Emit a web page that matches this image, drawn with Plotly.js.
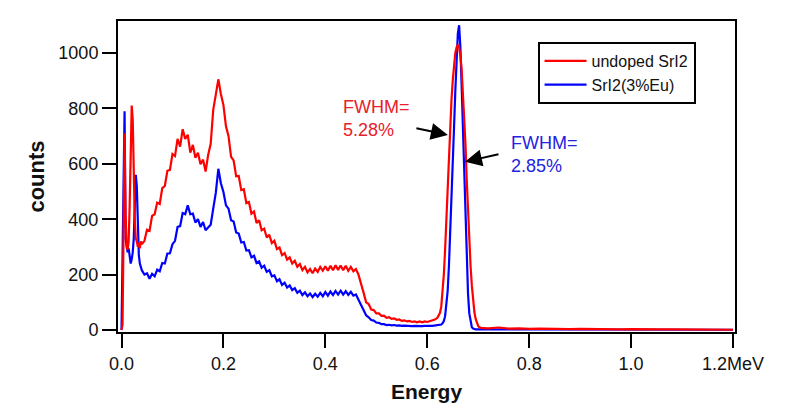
<!DOCTYPE html>
<html>
<head>
<meta charset="utf-8">
<script src="https://cdn.plot.ly/plotly-3.0.1.min.js"></script>
<style>html,body{margin:0;padding:0;background:#fff;}#chart{width:789px;height:409px;}</style>
</head>
<body>
<div id="chart"></div>
<script>
// Energy channels (MeV)
const energy = [
  0.000,0.002,0.004,0.006,0.008,0.010,0.012,0.014,0.016,0.018,0.020,0.022,0.024,0.026,0.028,0.030,0.032,0.034,0.036,0.038,0.040,
  0.045,0.050,0.055,0.060,0.065,0.070,0.075,0.080,0.085,0.090,
  0.095,0.100,0.105,0.110,0.115,0.120,0.125,0.130,0.135,0.140,
  0.145,0.150,0.155,0.160,0.165,0.170,0.175,0.180,0.185,0.190,
  0.195,0.200,0.205,0.210,0.215,0.220,0.225,0.230,0.235,0.240,
  0.245,0.250,0.255,0.260,0.265,0.270,0.275,0.280,0.285,0.290,
  0.295,0.300,0.305,0.310,0.315,0.320,0.325,0.330,0.335,0.340,
  0.345,0.350,0.355,0.360,0.365,0.370,0.375,0.380,0.385,0.390,
  0.395,0.400,0.405,0.410,0.415,0.420,0.425,0.430,0.435,0.440,
  0.445,0.450,0.455,0.460,0.465,0.470,0.475,0.480,0.485,0.490,
  0.495,0.500,0.505,0.510,0.515,0.520,0.525,0.530,0.535,0.540,
  0.545,0.550,0.555,0.560,0.565,0.570,0.575,0.580,0.585,0.590,
  0.595,0.600,0.605,0.610,0.615,0.620,
  0.6225,0.625,0.6275,0.630,0.6325,0.635,0.6375,0.640,0.6425,0.645,0.6475,0.650,
  0.6525,0.655,0.6575,0.660,0.6625,0.665,0.6675,0.670,0.6725,0.675,0.6775,0.680,
  0.6825,0.685,0.6875,0.690,0.6925,0.695,0.6975,0.700,0.7025,0.705,0.7075,0.710,
  0.72,0.74,0.76,0.78,0.80,0.82,0.84,0.86,0.88,0.90,0.92,0.94,0.96,0.98,1.00,
  1.02,1.04,1.06,1.08,1.10,1.12,1.14,1.16,1.18,1.20
];

// undoped SrI2 counts
const undoped = [
  0,20,350,710,420,300,290,320,450,700,810,760,560,400,330,320,300,315,295,320,310,
  322,362,358,412,418,460,455,512,520,575,
  578,635,628,690,662,725,690,705,640,668,
  622,640,598,615,572,632,672,795,850,905,
  852,812,735,700,625,612,555,556,505,508,
  458,462,420,428,386,396,360,366,334,344,
  314,322,292,298,270,278,254,262,240,250,
  228,238,216,228,208,220,205,222,210,228,
  214,230,214,232,216,234,217,233,216,232,
  214,228,212,220,200,170,135,100,94,74,
  72,60,60,51,52,44,46,40,42,37,
  38,33,35,31,33,29,31,28,31,28,
  31,29,32,33,38,44,
  52,62,85,130,200,290,400,530,650,750,830,900,
  960,1000,1020,1030,1020,990,940,860,770,670,540,420,
  320,230,160,105,65,40,22,14,10,8,7,7,
  6,9,5,6,4,5,4,4,3,4,3,3,3,2,3,
  2,2,2,2,2,1,2,1,1,1
];

// SrI2(3%Eu) counts
const eu3 = [
  0,300,650,790,330,300,280,295,260,240,255,280,330,450,560,520,340,270,240,225,215,
  200,205,185,203,194,218,212,242,240,276,
  277,310,322,372,375,422,418,450,418,420,
  388,400,372,390,360,372,380,438,495,582,
  530,498,450,438,396,392,352,348,316,318,
  287,288,262,268,242,248,225,232,210,216,
  194,197,176,183,163,171,153,161,144,151,
  134,142,126,136,122,132,119,131,120,134,
  122,137,124,139,126,141,128,142,128,140,
  127,138,124,128,110,90,72,53,46,36,
  34,27,26,21,21,18,19,17,18,16,
  17,15,16,15,16,14,15,14,15,14,
  15,14,15,15,16,16,
  17,18,20,24,32,50,85,140,230,340,470,600,
  730,860,980,1070,1100,1020,880,720,560,400,250,130,
  60,25,10,5,3,2,2,2,2,2,2,2,
  2,1,1,1,1,1,1,1,1,1,1,1,1,1,1,
  1,1,1,1,1,1,1,1,1,1
];

const xTickVals = [0, 0.2, 0.4, 0.6, 0.8, 1.0, 1.2];
const xTickText = ['0.0', '0.2', '0.4', '0.6', '0.8', '1.0', '1.2MeV'];
const yTickVals = [0, 200, 400, 600, 800, 1000];
const seriesNames = ['undoped SrI2', 'SrI2(3%Eu)'];

const FONT = 'Liberation Sans, Arial, Helvetica, sans-serif';

const traces = [
  {x: energy, y: eu3, type: 'scatter', mode: 'lines', name: seriesNames[1],
   line: {color: '#0000ff', width: 2.2}},
  {x: energy, y: undoped, type: 'scatter', mode: 'lines', name: seriesNames[0],
   line: {color: '#ff0000', width: 2.2}}
];

const layout = {
  width: 789, height: 409,
  margin: {l: 118, r: 54, t: 21, b: 77},
  paper_bgcolor: '#fff', plot_bgcolor: '#fff',
  font: {family: FONT, color: '#111', size: 18},
  showlegend: true,
  legend: {x: 0.68, y: 0.9325, xanchor: 'left', yanchor: 'top', itemwidth: 42,
           bgcolor: '#fff', bordercolor: '#000', borderwidth: 2,
           font: {size: 16, family: FONT, color: '#111'}, traceorder: 'reversed'},
  xaxis: {
    range: [-0.0069, 1.2039], tickmode: 'array', tickvals: xTickVals, ticktext: xTickText,
    ticks: 'outside', ticklen: 14, tickwidth: 2, tickcolor: '#000',
    showline: true, linewidth: 2, linecolor: '#000', mirror: true,
    showgrid: false, zeroline: false, tickfont: {size: 18, family: FONT, color: '#111'},
    title: {text: '<b>Energy</b>', font: {size: 21, family: FONT, color: '#111'}, standoff: 12}
  },
  yaxis: {
    range: [-7.2, 1115.5], tickmode: 'array', tickvals: yTickVals,
    ticks: 'outside', ticklen: 14, tickwidth: 2, tickcolor: '#000',
    showline: true, linewidth: 2, linecolor: '#000', mirror: true,
    showgrid: false, zeroline: false, tickfont: {size: 18, family: FONT, color: '#111'},
    title: {text: '<b>counts</b>', font: {size: 22, family: FONT, color: '#111'}, standoff: 8}
  },
  annotations: [
    {x: 0.430, y: 847, xref: 'x', yref: 'y', xanchor: 'left', yanchor: 'top', align: 'left',
     text: 'FWHM=<br>5.28%', showarrow: false, font: {size: 18, family: FONT, color: '#e8202a'}},
    {x: 0.760, y: 720, xref: 'x', yref: 'y', xanchor: 'left', yanchor: 'top', align: 'left',
     text: 'FWHM=<br>2.85%', showarrow: false, font: {size: 18, family: FONT, color: '#2222e0'}},
    {x: 0.6405, y: 704, xref: 'x', yref: 'y', text: '', showarrow: true,
     ax: -33, ay: -7, arrowhead: 2, arrowsize: 1.7, arrowwidth: 2, arrowcolor: '#000', standoff: 0},
    {x: 0.674, y: 607, xref: 'x', yref: 'y', text: '', showarrow: true,
     ax: 35, ay: -8, arrowhead: 2, arrowsize: 1.7, arrowwidth: 2, arrowcolor: '#000', standoff: 0}
  ]
};

Plotly.newPlot('chart', traces, layout, {displayModeBar: false, staticPlot: true});
</script>
</body>
</html>
